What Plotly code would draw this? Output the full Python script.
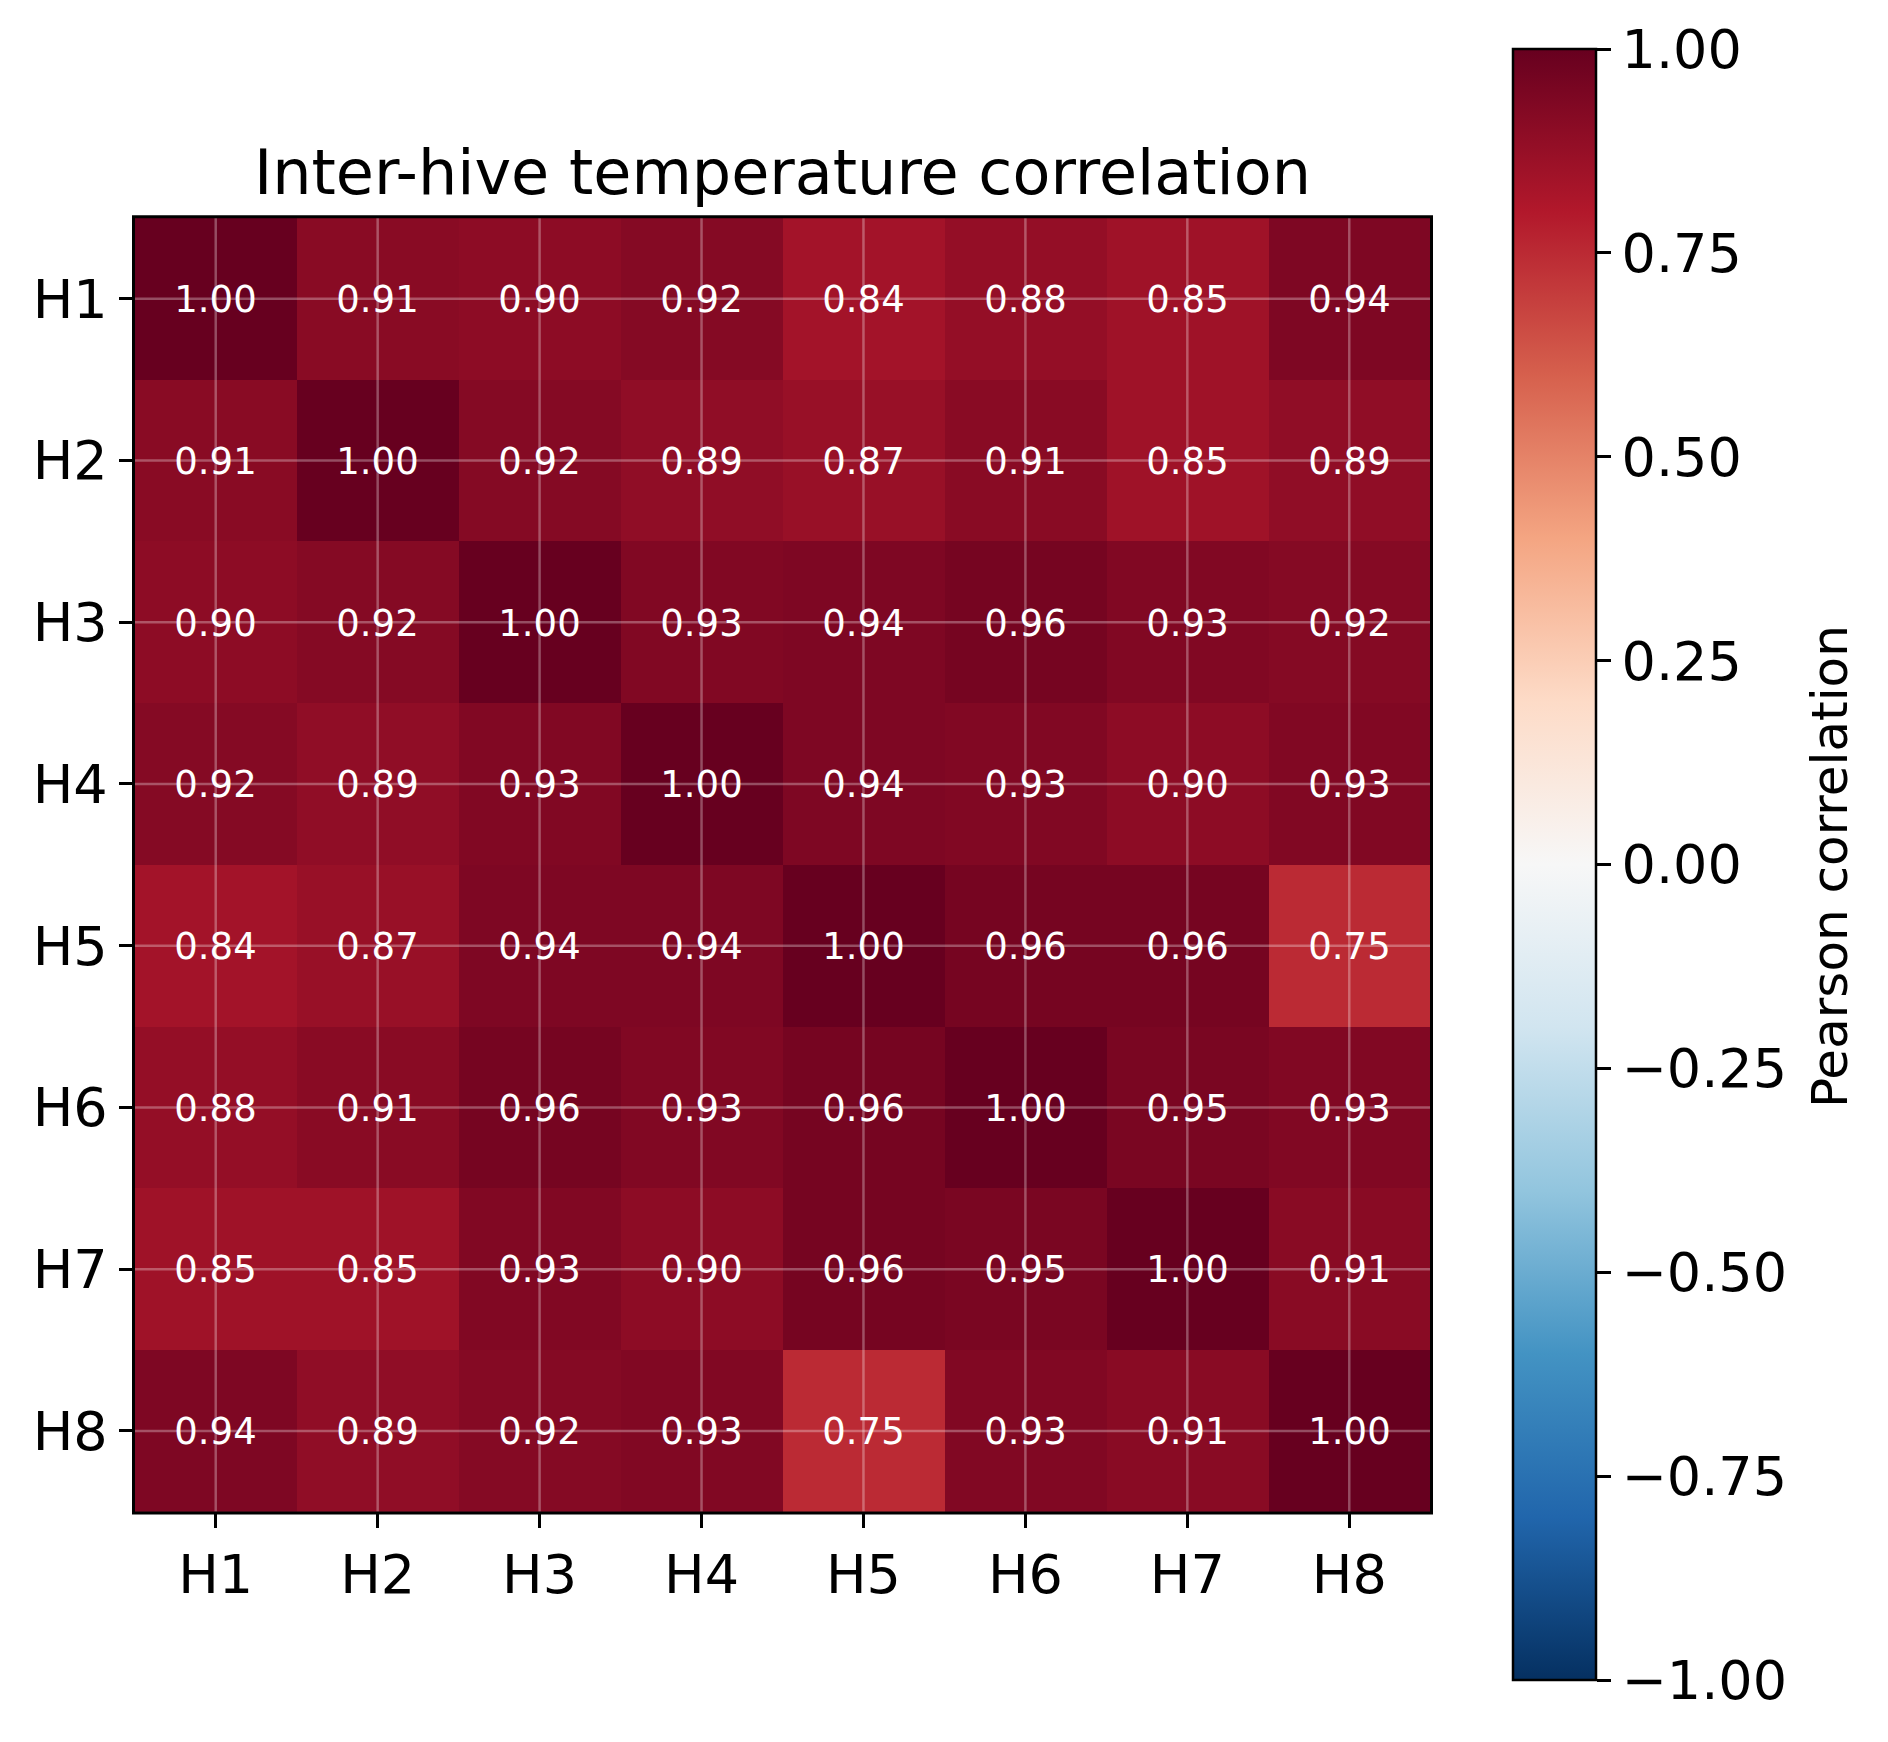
import plotly.graph_objects as go
import plotly.colors as pc

hives = ["H1", "H2", "H3", "H4", "H5", "H6", "H7", "H8"]
corr = [
    [1.00, 0.91, 0.90, 0.92, 0.84, 0.88, 0.85, 0.94],
    [0.91, 1.00, 0.92, 0.89, 0.87, 0.91, 0.85, 0.89],
    [0.90, 0.92, 1.00, 0.93, 0.94, 0.96, 0.93, 0.92],
    [0.92, 0.89, 0.93, 1.00, 0.94, 0.93, 0.90, 0.93],
    [0.84, 0.87, 0.94, 0.94, 1.00, 0.96, 0.96, 0.75],
    [0.88, 0.91, 0.96, 0.93, 0.96, 1.00, 0.95, 0.93],
    [0.85, 0.85, 0.93, 0.90, 0.96, 0.95, 1.00, 0.91],
    [0.94, 0.89, 0.92, 0.93, 0.75, 0.93, 0.91, 1.00],
]
cbar_ticks = [-1.0, -0.75, -0.5, -0.25, 0.0, 0.25, 0.5, 0.75, 1.0]

W, H = 1888, 1742
FONT = "DejaVu Sans"

rdbu = pc.diverging.RdBu[::-1]
colorscale = [[i / (len(rdbu) - 1), c] for i, c in enumerate(rdbu)]

fig = go.Figure(go.Heatmap(
    z=corr, x=hives, y=hives,
    zmin=-1, zmax=1,
    colorscale=colorscale,
    texttemplate="%{z:.2f}",
    textfont=dict(color="white", size=37, family=FONT),
    xgap=0, ygap=0,
    colorbar=dict(
        x=1513 / W, xanchor="left",
        y=1 - 864.5 / H, yanchor="middle",
        len=(1680 - 49) / H, lenmode="fraction",
        thickness=83, thicknessmode="pixels",
        outlinecolor="black", outlinewidth=2.5,
        tickvals=cbar_ticks, tickformat=".2f",
        ticks="outside", ticklen=14, tickwidth=2.5, tickcolor="black",
        tickfont=dict(size=54, family=FONT, color="black"),
        xpad=0, ypad=0,
    ),
))

# translucent white grid lines drawn above the cells at each category position
shapes = []
n = len(hives)
for i in range(n):
    shapes.append(dict(type="line", xref="x", yref="y", x0=i, x1=i, y0=-0.5, y1=n - 0.5,
                       line=dict(color="rgba(255,255,255,0.3)", width=2.5), layer="above"))
    shapes.append(dict(type="line", xref="x", yref="y", y0=i, y1=i, x0=-0.5, x1=n - 0.5,
                       line=dict(color="rgba(255,255,255,0.3)", width=2.5), layer="above"))
# black frame around the plotting area
shapes.append(dict(type="rect", xref="x domain", yref="y domain", x0=0, x1=1, y0=0, y1=1,
                   line=dict(color="black", width=3), layer="above"))

axis_common = dict(
    showline=False,
    ticks="outside", ticklen=14, tickwidth=2.5, tickcolor="black",
    tickfont=dict(size=54, family=FONT, color="black"),
    showgrid=False, zeroline=False, automargin=False,
)

fig.update_layout(
    width=W, height=H,
    margin=dict(l=0, r=0, t=0, b=0),
    paper_bgcolor="white", plot_bgcolor="white",
    font=dict(family=FONT, color="black"),
    title=dict(text="Inter-hive temperature correlation",
               x=(133.5 + 1431.5) / 2 / W, xanchor="center",
               y=1 - 172 / H, yanchor="middle",
               font=dict(size=62, family=FONT, color="black")),
    xaxis=dict(domain=[133.5 / W, 1431.5 / W], **axis_common),
    yaxis=dict(domain=[1 - 1513 / H, 1 - 216.7 / H], autorange="reversed", **axis_common),
    shapes=shapes,
    annotations=[dict(text="Pearson correlation", textangle=-90,
                      x=1830 / W, y=1 - 867 / H, xref="paper", yref="paper",
                      xanchor="center", yanchor="middle", showarrow=False,
                      font=dict(size=50, family=FONT, color="black"))],
)

fig.write_html("out.html")
